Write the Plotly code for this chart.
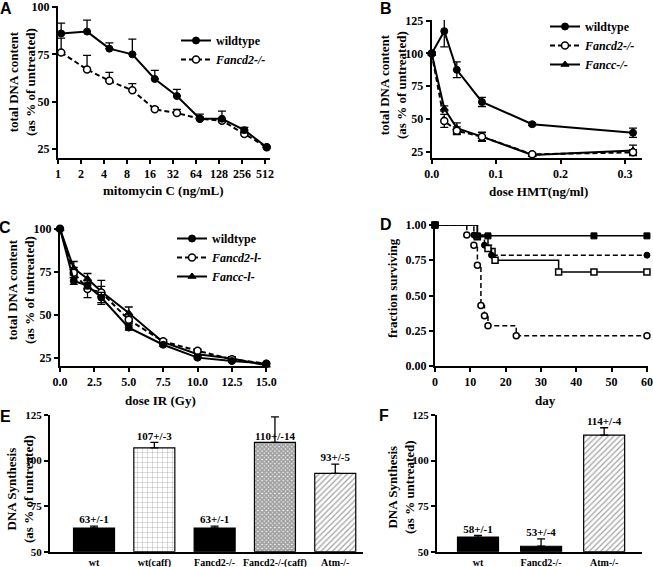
import plotly.graph_objects as go

W, H = 653, 567
SERIF = "Liberation Serif"
SANS = "Liberation Sans"

# A: mitomycin C dose response
mmc_dose = [1.1, 2.4, 4.7, 9.4, 18.5, 36, 72, 140, 275, 540]
mmc_wt = [86, 87, 78, 75, 62, 53, 41, 41, 35, 26]
mmc_wt_err = [5.5, 6, 3, 8, 4.5, 3.5, 2.5, 4, 1.5, 0.5]
mmc_fd2 = [76, 67, 61, 56, 46, 44, 41, 40, 33, 26]
mmc_fd2_err = [7.5, 7.5, 4.5, 3.5, 1, 2, 1, 1, 1, 0.5]
mmc_ticks = [1, 2, 4, 8, 16, 32, 64, 128, 256, 512]

# B: HMT dose response
hmt_dose = [0, 0.0195, 0.039, 0.078, 0.156, 0.3125]
hmt_wt = [100, 117, 87.5, 63, 46, 39.5]
hmt_wt_err = [1, 12, 6, 3.5, 1, 3.5]
hmt_fd2 = [100, 48.5, 41, 36.5, 23, 24.5]
hmt_fd2_err = [1, 5, 3, 3.5, 1, 2]
hmt_fcc = [100, 58, 43, 36.5, 22.5, 26]
hmt_fcc_err = [1, 2, 4, 3, 1, 4]

# C: IR dose response
ir_dose = [0, 1, 2, 3, 5, 7.5, 10, 12.5, 15]
ir_wt = [100, 69.7, 67, 60, 42.5, 32.5, 25, 23, 21.5]
ir_wt_err = [0.5, 2, 2, 3, 1.5, 1, 0.5, 0.5, 0.5]
ir_fd2 = [100, 74.5, 65, 63, 47, 34.5, 29, 24, 21.5]
ir_fd2_err = [0.5, 3, 5, 7, 2, 1, 1, 1, 0.5]
ir_fcc = [100, 77, 71, 63.5, 51, 34, 27, 24.5, 20.5]
ir_fcc_err = [0.5, 4, 3, 3, 3.5, 1.5, 1, 1, 0.5]

# D: survival curves
surv_oc_day = [0, 9, 11, 12, 13, 14, 15, 23, 60]
surv_oc = [1, 0.929, 0.857, 0.714, 0.429, 0.357, 0.286, 0.214, 0.214]
surv_fc_day = [0, 11, 14, 16, 60]
surv_fc = [1, 0.929, 0.857, 0.786, 0.786]
surv_os_day = [0, 12, 15, 17, 35, 45, 60]
surv_os = [1, 0.917, 0.833, 0.75, 0.667, 0.667, 0.667]
surv_fs_day = [0, 12, 15, 45, 60]
surv_fs = [1, 0.923, 0.923, 0.923, 0.923]

# E / F: DNA synthesis bars
e_cats = ["wt", "wt(caff)", "Fancd2-/-", "Fancd2-/-(caff)", "Atm-/-"]
e_vals = [63, 107, 63, 110, 93]
e_err = [1, 3, 1, 14, 5]
e_labels = ["63+/-1", "107+/-3", "63+/-1", "110+/-14", "93+/-5"]
f_cats = ["wt", "Fancd2-/-", "Atm-/-"]
f_vals = [58, 53, 114]
f_err = [1, 4, 4]
f_labels = ["58+/-1", "53+/-4", "114+/-4"]


def px_x(p):
    return p / W


def px_y(p):
    return 1 - p / H


tickfont = dict(family=SERIF, size=12, color="black", weight="bold")


def axis(**kw):
    d = dict(showline=True, linecolor="black", linewidth=2, ticks="outside",
             ticklen=4, tickwidth=2, tickcolor="black", showgrid=False,
             zeroline=False, tickfont=tickfont, layer="above traces", tickangle=0)
    d.update(kw)
    return d


def err(arr, up_only=False):
    d = dict(type="data", array=arr, color="black", thickness=1.3, width=4)
    if up_only:
        d.update(symmetric=False, arrayminus=[0] * len(arr))
    return d


filled = dict(symbol="circle", size=7, color="black", line=dict(color="black", width=1))
opened = dict(symbol="circle", size=7, color="white", line=dict(color="black", width=1.5))
tri = dict(symbol="triangle-up", size=7, color="black", line=dict(color="black", width=1))
sq_f = dict(symbol="square", size=7, color="black", line=dict(color="black", width=1))
sq_o = dict(symbol="square", size=7, color="white", line=dict(color="black", width=1.5))
solid = dict(color="black", width=2)
dashed = dict(color="black", width=2, dash="5px,3px")

fig = go.Figure()

# ---- A
fig.add_trace(go.Scatter(x=mmc_dose, y=mmc_fd2, mode="lines+markers", marker=opened, line=dashed,
                         error_y=err(mmc_fd2_err, True), name="<i>Fancd2-/-</i>", xaxis="x", yaxis="y",
                         legend="legend", legendrank=2, cliponaxis=False))
fig.add_trace(go.Scatter(x=mmc_dose, y=mmc_wt, mode="lines+markers", marker=filled, line=solid,
                         error_y=err(mmc_wt_err, True), name="wildtype", xaxis="x", yaxis="y",
                         legend="legend", legendrank=1, cliponaxis=False))

# ---- B
for yv, e, mk, ln, nm, rk in [(hmt_fcc, hmt_fcc_err, tri, solid, "<i>Fancc-/-</i>", 3),
                              (hmt_fd2, hmt_fd2_err, opened, dashed, "<i>Fancd2-/-</i>", 2),
                              (hmt_wt, hmt_wt_err, filled, solid, "wildtype", 1)]:
    fig.add_trace(go.Scatter(x=hmt_dose, y=yv, mode="lines+markers", marker=mk, line=ln,
                             error_y=err(e), name=nm, xaxis="x2", yaxis="y2",
                             legend="legend2", legendrank=rk, cliponaxis=False))

# ---- C
for yv, e, mk, ln, nm, rk in [(ir_fcc, ir_fcc_err, tri, solid, "<i>Fancc-l-</i>", 3),
                              (ir_fd2, ir_fd2_err, opened, dashed, "<i>Fancd2-l-</i>", 2),
                              (ir_wt, ir_wt_err, filled, solid, "wildtype", 1)]:
    fig.add_trace(go.Scatter(x=ir_dose, y=yv, mode="lines+markers", marker=mk, line=ln,
                             error_y=err(e), name=nm, xaxis="x3", yaxis="y3",
                             legend="legend3", legendrank=rk, cliponaxis=False))

# ---- D
for xv, yv, mk, ln in [(surv_oc_day, surv_oc, opened, dict(dashed, width=1.5)),
                       (surv_fc_day, surv_fc, filled, dict(dashed, width=1.5)),
                       (surv_os_day, surv_os, sq_o, dict(solid, width=1.5)),
                       (surv_fs_day, surv_fs, sq_f, dict(solid, width=1.5))]:
    fig.add_trace(go.Scatter(x=xv, y=yv, mode="lines+markers", line=dict(ln, shape="hv"),
                             marker=dict(mk, size=6), xaxis="x4", yaxis="y4",
                             showlegend=False, cliponaxis=False))

# ---- E
fig.add_trace(go.Bar(x=e_cats, y=[v - 50 for v in e_vals], base=50, width=0.68,
                     marker=dict(color=["black", "white", "black", "white", "white"],
                                 line=dict(color="black", width=1.2),
                                 pattern=dict(shape=["", "+", "", "x", "/"], size=[5, 5, 5, 3, 4],
                                              solidity=[0.2, 0.15, 0.2, 0.85, 0.3],
                                              fgcolor="black", fillmode="overlay")),
                     error_y=err(e_err, True), xaxis="x5", yaxis="y5", showlegend=False))
fig.add_trace(go.Scatter(x=e_cats, y=[v + (e if e < 10 else 0) for v, e in zip(e_vals, e_err)],
                         text=e_labels, mode="text", textposition="top center",
                         textfont=dict(family=SERIF, size=11, color="black", weight="bold"),
                         xaxis="x5", yaxis="y5", showlegend=False, cliponaxis=False))

# ---- F
fig.add_trace(go.Bar(x=f_cats, y=[v - 50 for v in f_vals], base=50, width=0.65,
                     marker=dict(color=["black", "black", "white"],
                                 line=dict(color="black", width=1.2),
                                 pattern=dict(shape=["", "", "/"], size=4, solidity=0.3,
                                              fgcolor="black", fillmode="overlay")),
                     error_y=err(f_err, True), xaxis="x6", yaxis="y6", showlegend=False))
fig.add_trace(go.Scatter(x=f_cats, y=[v + e for v, e in zip(f_vals, f_err)],
                         text=f_labels, mode="text", textposition="top center",
                         textfont=dict(family=SERIF, size=11, color="black", weight="bold"),
                         xaxis="x6", yaxis="y6", showlegend=False, cliponaxis=False))

legfont = dict(family=SERIF, size=12, color="black", weight="bold")


def legend(x, y, gap):
    return dict(x=px_x(x), y=px_y(y), xanchor="left", yanchor="top", font=legfont,
                bgcolor="rgba(0,0,0,0)", tracegroupgap=gap, itemwidth=30,
                traceorder="normal")


fig.update_layout(
    width=W, height=H, margin=dict(l=0, r=0, t=0, b=0, autoexpand=False),
    paper_bgcolor="white", plot_bgcolor="white",
    font=dict(family=SERIF, color="black"),
    xaxis=axis(type="log", domain=[px_x(58), px_x(270)], range=[0, 2.775], anchor="y",
               tickvals=mmc_ticks, ticktext=[str(t) for t in mmc_ticks]),
    yaxis=axis(domain=[px_y(158), px_y(6)], range=[20.3, 100.5], anchor="x",
               tickvals=[25, 50, 75, 100]),
    xaxis2=axis(domain=[px_x(431.7), px_x(641.7)], range=[0, 0.326], anchor="y2",
                tickvals=[0, 0.1, 0.2, 0.3], tickformat=".1f"),
    yaxis2=axis(domain=[px_y(158), px_y(20)], range=[20.2, 125.5], anchor="x2",
                tickvals=[25, 50, 75, 100, 125]),
    xaxis3=axis(domain=[px_x(60), px_x(267)], range=[0, 15.05], anchor="y3",
                tickvals=[0, 2.5, 5, 7.5, 10, 12.5, 15], tickformat=".1f"),
    yaxis3=axis(domain=[px_y(365.7), px_y(228)], range=[20.3, 100.5], anchor="x3",
                tickvals=[25, 50, 75, 100]),
    xaxis4=axis(domain=[px_x(435), px_x(648)], range=[0, 60.3], anchor="y4",
                tickvals=[0, 10, 20, 30, 40, 50, 60]),
    yaxis4=axis(domain=[px_y(366), px_y(225)], range=[0, 1.0], anchor="x4",
                tickvals=[0, 0.25, 0.5, 0.75, 1.0], tickformat=".2f"),
    xaxis5=axis(domain=[px_x(50), px_x(363)], range=[-0.73, 4.46], anchor="y5", ticks="",
                ticklen=0, tickfont=dict(tickfont, size=10)),
    yaxis5=axis(domain=[px_y(551.7), px_y(415)], range=[50, 125], anchor="x5",
                tickvals=[50, 75, 100, 125], tickfont=dict(tickfont, size=11)),
    xaxis6=axis(domain=[px_x(437), px_x(642)], range=[-0.65, 2.6], anchor="y6", ticks="",
                ticklen=0, tickfont=dict(tickfont, size=10)),
    yaxis6=axis(domain=[px_y(551.7), px_y(415)], range=[50, 125], anchor="x6",
                tickvals=[50, 75, 100, 125], tickfont=dict(tickfont, size=11)),
    legend=legend(176, 26, 4),
    legend2=legend(545, 12, 0),
    legend3=legend(172, 224, 0),
)

ann = []
titfont = dict(family=SERIF, size=13, color="black", weight="bold")


def note(txt, x, y, font, angle=0):
    return dict(text=txt, x=px_x(x), y=px_y(y), xref="paper", yref="paper",
                xanchor="center", yanchor="middle", showarrow=False,
                textangle=angle, font=font)


for txt, x, y in [("mitomycin C (ng/mL)", 163, 190), ("dose HMT(ng/ml)", 538, 191),
                  ("dose IR (Gy)", 160, 400), ("day", 545, 400)]:
    ann.append(note(txt, x, y, titfont))
for txt, x, y in [("total DNA content<br>(as % of untreated)", 22, 82),
                  ("total DNA content<br>(as % of untreated)", 393, 85),
                  ("total DNA content<br>(as % of untreated)", 21, 290),
                  ("fraction surviving", 392, 288),
                  ("DNA Synthesis<br>(as % of untreated)", 20, 489),
                  ("DNA Synthesis<br>(as % untreated)", 401, 487)]:
    ann.append(note(txt, x, y, titfont, -90))
for txt, x, y in [("A", 6, 8), ("B", 386, 8), ("C", 5, 227), ("D", 386, 225),
                  ("E", 5, 416), ("F", 384, 415)]:
    ann.append(note(txt, x, y, dict(family=SANS, size=16, color="black", weight="bold")))
fig.update_layout(annotations=ann)

fig.write_html("out.html", config={"displayModeBar": False},
               post_script="document.body.style.margin='0';")
